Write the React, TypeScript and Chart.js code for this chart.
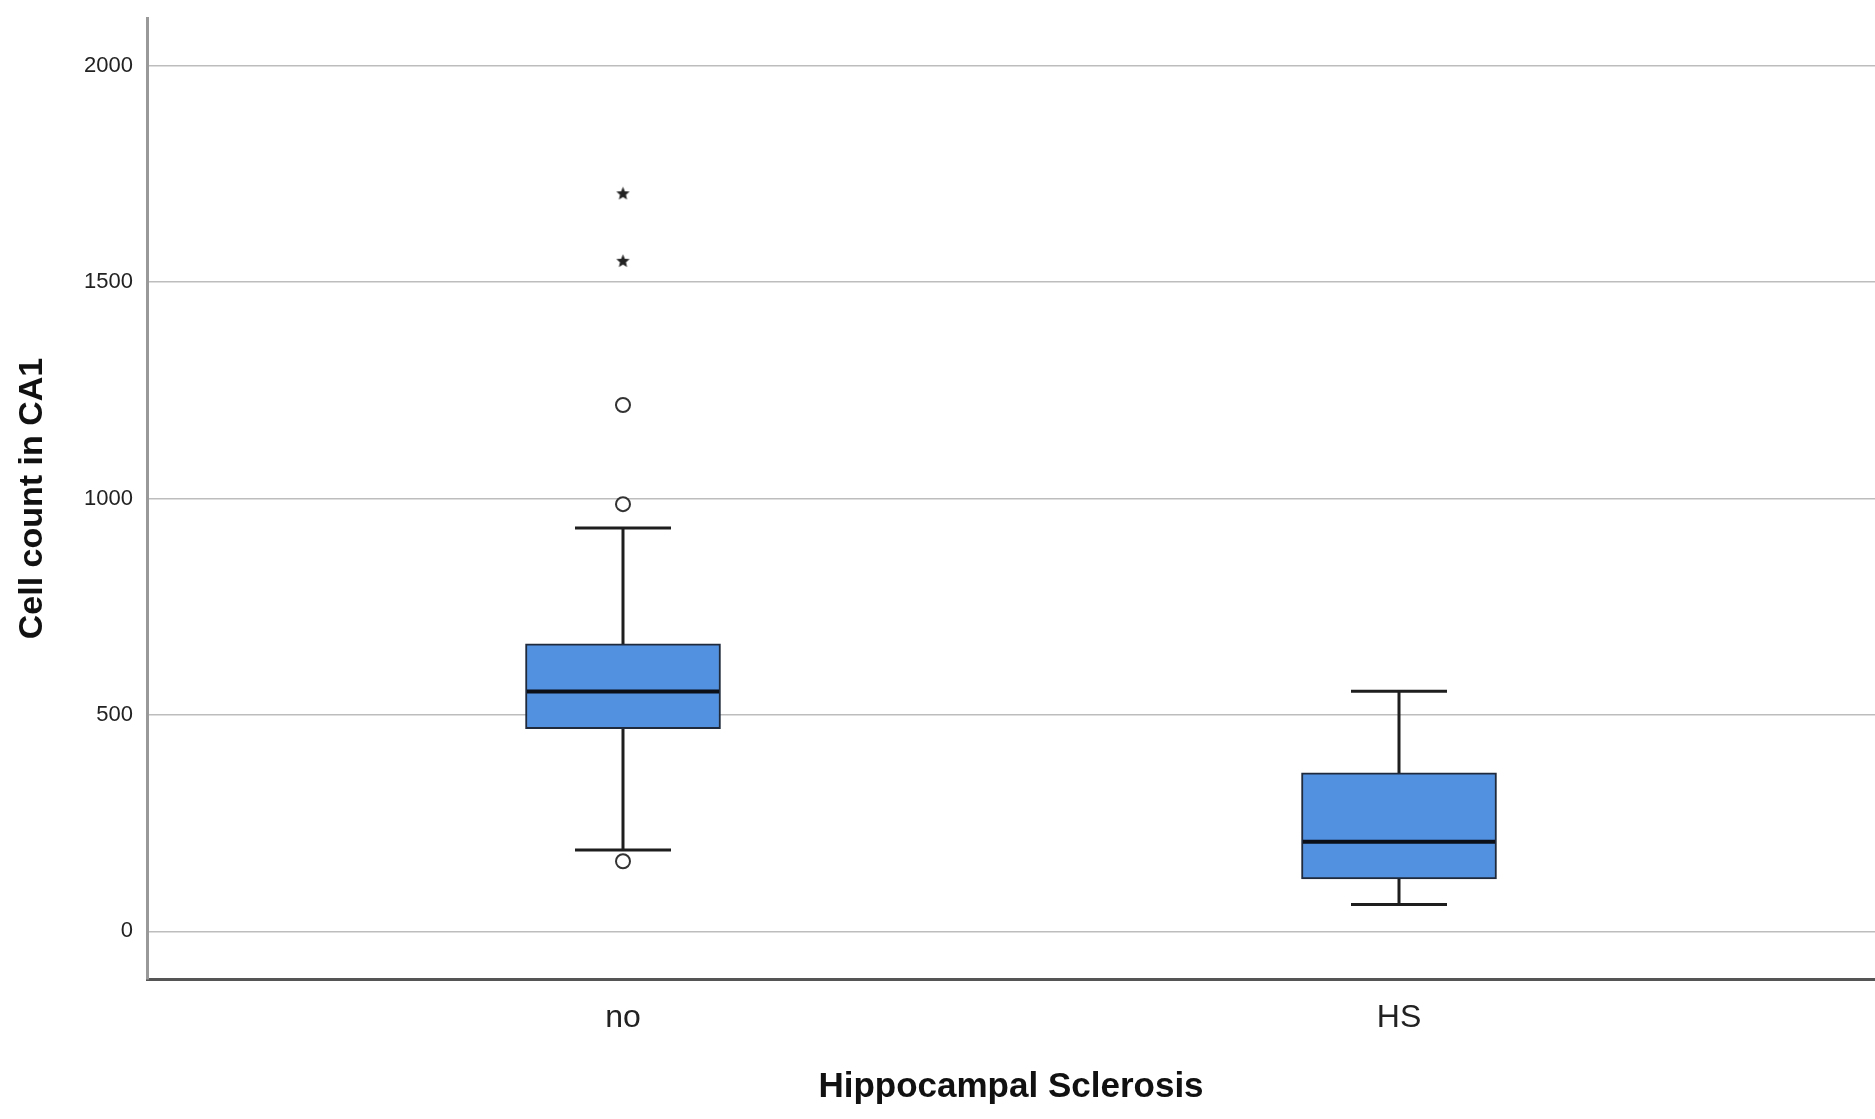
import React, { useEffect, useRef } from 'react';
import { Chart, registerables } from 'chart.js';

Chart.register(...registerables);

// ---- Data ----
const categories = ['no', 'HS'];
const lowerWhisker = [188, 62];
const q1 = [468, 121];
const median = [554, 207];
const q3 = [664, 366];
const upperWhisker = [932, 555];
const outlierCat = [0, 0, 0];
const outlierValues = [162, 987, 1216];
const extremeCat = [0, 0];
const extremeValues = [1548, 1704];
const yTicks = [0, 500, 1000, 1500, 2000];

const FONT = 'Arial, "Liberation Sans", Helvetica, sans-serif';

function makeStar(size: number, color: string): HTMLCanvasElement {
  const c = document.createElement('canvas');
  c.width = size;
  c.height = size;
  const g = c.getContext('2d')!;
  g.fillStyle = color;
  g.beginPath();
  const cx = size / 2;
  const cy = size / 2;
  const R = size / 2 - 0.5;
  const r = R * 0.45;
  for (let k = 0; k < 10; k++) {
    const a = -Math.PI / 2 + (k * Math.PI) / 5;
    const rad = k % 2 === 0 ? R : r;
    g.lineTo(cx + rad * Math.cos(a), cy + rad * Math.sin(a));
  }
  g.closePath();
  g.fill();
  return c;
}

const whiskerPlugin = {
  id: 'whiskers',
  beforeDatasetsDraw(chart: any) {
    const { ctx, scales } = chart;
    const x = scales.x;
    const y = scales.y;
    ctx.save();
    ctx.strokeStyle = '#1e1e1e';
    ctx.lineWidth = 3;
    ctx.lineCap = 'butt';
    categories.forEach((_, i) => {
      const cx = x.getPixelForValue(i);
      const capHalf = 48;
      const yHi = y.getPixelForValue(upperWhisker[i]);
      const yLo = y.getPixelForValue(lowerWhisker[i]);
      ctx.beginPath();
      ctx.moveTo(cx, y.getPixelForValue(q3[i]));
      ctx.lineTo(cx, yHi);
      ctx.moveTo(cx, y.getPixelForValue(q1[i]));
      ctx.lineTo(cx, yLo);
      ctx.moveTo(cx - capHalf, yHi);
      ctx.lineTo(cx + capHalf, yHi);
      ctx.moveTo(cx - capHalf, yLo);
      ctx.lineTo(cx + capHalf, yLo);
      ctx.stroke();
    });
    ctx.restore();
  },
  afterDatasetsDraw(chart: any) {
    const { ctx, scales } = chart;
    const x = scales.x;
    const y = scales.y;
    ctx.save();
    ctx.strokeStyle = '#0b0f18';
    ctx.lineWidth = 4;
    categories.forEach((_, i) => {
      const cx = x.getPixelForValue(i);
      const half = 96;
      const ym = y.getPixelForValue(median[i]);
      ctx.beginPath();
      ctx.moveTo(cx - half, ym);
      ctx.lineTo(cx + half, ym);
      ctx.stroke();
    });
    ctx.restore();
  },
};

export default function App() {
  const canvasRef = useRef<HTMLCanvasElement | null>(null);

  useEffect(() => {
    if (!canvasRef.current) return;
    Chart.defaults.font.family = FONT;
    const star = makeStar(15, '#222222');

    const chart = new Chart(canvasRef.current, {
      type: 'bar',
      data: {
        datasets: [
          {
            type: 'scatter',
            label: 'extremes',
            data: extremeCat.map((c, i) => ({ x: c, y: extremeValues[i] })),
            pointStyle: star as any,
            pointRadius: 7,
            showLine: false,
          } as any,
          {
            type: 'scatter',
            label: 'outliers',
            data: outlierCat.map((c, i) => ({ x: c, y: outlierValues[i] })),
            pointStyle: 'circle',
            pointRadius: 7,
            borderWidth: 2,
            borderColor: '#333333',
            backgroundColor: '#ffffff',
            showLine: false,
          } as any,
          {
            type: 'bar',
            label: 'box',
            data: categories.map((_, i) => ({ x: i, y: [q1[i], q3[i]] })) as any,
            backgroundColor: '#5290E0',
            borderColor: '#1f2b3d',
            borderWidth: 2,
            borderSkipped: false,
            barThickness: 195,
          } as any,
        ],
      },
      options: {
        responsive: false,
        animation: false,
        layout: { autoPadding: false, padding: { top: 18, right: 0, left: 0, bottom: 0 } },
        plugins: {
          legend: { display: false },
          tooltip: { enabled: false },
        },
        scales: {
          x: {
            type: 'linear',
            offset: false,
            bounds: 'data',
            min: -0.6134,
            max: 1.6134,
            afterBuildTicks: (s: any) => {
              s.ticks = categories.map((_, i) => ({ value: i }));
            },
            afterFit: (s: any) => {
              s.height = 140;
              s.paddingLeft = 0;
              s.paddingRight = 0;
            },
            ticks: {
              callback: (v: any) => categories[v] ?? '',
              font: { family: FONT, size: 32 },
              color: '#222222',
              padding: 0,
              maxRotation: 0,
              autoSkip: false,
            },
            grid: {
              display: true,
              color: 'rgba(0,0,0,0)',
              tickColor: 'rgba(0,0,0,0)',
              drawTicks: true,
              tickLength: 20,
              offset: false,
            },
            border: { display: true, color: '#555555', width: 3 },
            title: {
              display: true,
              text: 'Hippocampal Sclerosis',
              font: { family: FONT, size: 35, weight: 'bold' },
              color: '#111111',
              padding: { top: 0, bottom: 11 },
            },
          } as any,
          y: {
            type: 'linear',
            min: -110,
            max: 2110,
            afterBuildTicks: (s: any) => {
              s.ticks = yTicks.map((v) => ({ value: v }));
            },
            afterFit: (s: any) => {
              s.width = 147;
            },
            ticks: {
              callback: (v: any) => String(v),
              font: { family: FONT, size: 22 },
              color: '#222222',
              padding: 0,
            },
            grid: {
              color: '#bdbdbd',
              lineWidth: 1.5,
              drawTicks: true,
              tickLength: 14,
              tickColor: 'rgba(0,0,0,0)',
            },
            border: { display: true, color: '#999999', width: 3 },
            title: {
              display: true,
              text: 'Cell count in CA1',
              font: { family: FONT, size: 34, weight: 'bold' },
              color: '#111111',
              padding: { top: 12, bottom: 0 },
            },
          } as any,
        },
      },
      plugins: [whiskerPlugin],
    } as any);

    return () => chart.destroy();
  }, []);

  return (
    <div style={{ position: 'absolute', left: 0, top: 0, width: 1875, height: 1119, background: '#ffffff' }}>
      <canvas ref={canvasRef} width={1875} height={1119} style={{ width: 1875, height: 1119, display: 'block' }} />
    </div>
  );
}
